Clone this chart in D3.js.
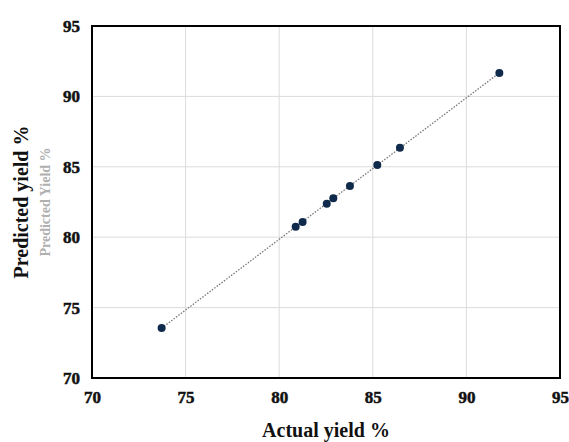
<!DOCTYPE html>
<html><head><meta charset="utf-8">
<script src="https://cdn.jsdelivr.net/npm/d3@7"></script>
<style>body{margin:0;background:#fff}svg{display:block}</style>
</head><body><svg id="c" width="569" height="442"></svg>
<script>
const actual =    [73.72, 80.88, 81.25, 82.54, 82.89, 83.78, 85.24, 86.45, 91.76];
const predicted = [73.55, 80.75, 81.08, 82.38, 82.76, 83.64, 85.13, 86.36, 91.66];
const xTicks = [70, 75, 80, 85, 90, 95];
const yTicks = [70, 75, 80, 85, 90, 95];

const svg = d3.select('#c');
const L = 92, R = 560, T = 26, B = 378;
const x = d3.scaleLinear().domain([70, 95]).range([L, R]);
const y = d3.scaleLinear().domain([70, 95]).range([B, T]);
const font = '"Liberation Serif","Times New Roman",serif';

// grid
svg.append('g').selectAll('line').data(xTicks.slice(1, -1)).join('line')
  .attr('x1', d => x(d)).attr('x2', d => x(d)).attr('y1', T).attr('y2', B)
  .attr('stroke', '#dcdcdc').attr('stroke-width', 1);
svg.append('g').selectAll('line').data(yTicks.slice(1, -1)).join('line')
  .attr('y1', d => y(d)).attr('y2', d => y(d)).attr('x1', L).attr('x2', R)
  .attr('stroke', '#dcdcdc').attr('stroke-width', 1);

// axes via d3
const xAxis = svg.append('g').attr('transform', `translate(0,${B})`)
  .call(d3.axisBottom(x).tickValues(xTicks).tickSize(0).tickPadding(13));
const yAxis = svg.append('g').attr('transform', `translate(${L},0)`)
  .call(d3.axisLeft(y).tickValues(yTicks).tickSize(0).tickPadding(12));
[xAxis, yAxis].forEach(g => {
  g.attr('font-family', null).attr('font-size', null);
  g.select('.domain').remove();
  g.selectAll('text').style('font-family', font).style('font-weight', 'bold')
    .style('font-size', '17px').attr('fill', '#111')
    .attr('stroke', '#111').attr('stroke-width', 0.5);
});

// frame
svg.append('rect').attr('x', L).attr('y', T).attr('width', R - L).attr('height', B - T)
  .attr('fill', 'none').attr('stroke', '#000').attr('stroke-width', 2);

// trend line (dotted)
const mx = d3.mean(actual), my = d3.mean(predicted);
const slope = d3.sum(actual.map((a, i) => (a - mx) * (predicted[i] - my))) / d3.sum(actual.map(a => (a - mx) ** 2));
const icpt = my - slope * mx;
const x0 = d3.min(actual), x1 = d3.max(actual);
svg.append('line')
  .attr('x1', x(x0)).attr('y1', y(slope * x0 + icpt))
  .attr('x2', x(x1)).attr('y2', y(slope * x1 + icpt))
  .attr('stroke', '#777').attr('stroke-width', 1.3).attr('stroke-dasharray', '1.5,1.5');

// points
svg.append('g').selectAll('circle').data(actual).join('circle')
  .attr('cx', d => x(d)).attr('cy', (d, i) => y(predicted[i])).attr('r', 4)
  .attr('fill', '#0f2a4a');

// labels
svg.append('text').attr('x', 326).attr('y', 437).attr('text-anchor', 'middle')
  .style('font-family', font).style('font-weight', 'bold').style('font-size', '20px').attr('fill', '#111')
  .text('Actual yield %');
svg.append('text').attr('transform', 'translate(28,202) rotate(-90)').attr('text-anchor', 'middle')
  .style('font-family', font).style('font-weight', 'bold').style('font-size', '20px').attr('fill', '#111')
  .text('Predicted yield %');
svg.append('text').attr('transform', 'translate(50,202) rotate(-90)').attr('text-anchor', 'middle')
  .style('font-family', font).style('font-weight', 'bold').style('font-size', '14px').attr('fill', '#b0b0b0')
  .text('Predicted Yield %');
</script></body></html>
